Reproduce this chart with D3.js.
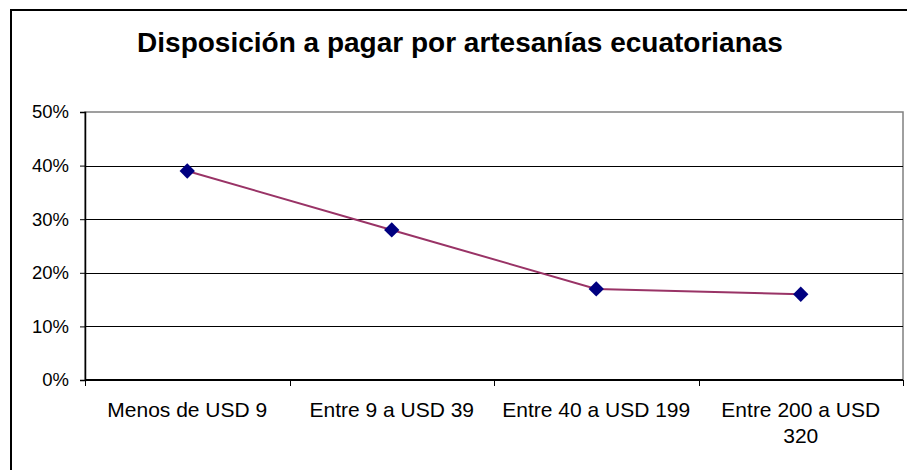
<!DOCTYPE html>
<html>
<head>
<meta charset="utf-8">
<script src="https://cdn.jsdelivr.net/npm/d3@7"></script>
<style>
  html, body { margin: 0; padding: 0; background: #fff; }
  svg { display: block; }
</style>
</head>
<body>
<div class="chart"></div>
<script>
const categories = ["Menos de USD 9", "Entre 9 a USD 39", "Entre 40 a USD 199", "Entre 200 a USD 320"];
const shares = [0.39, 0.28, 0.17, 0.16];
const yTicks = [0, 0.1, 0.2, 0.3, 0.4, 0.5];
const title = "Disposición a pagar por artesanías ecuatorianas";

const width = 907;
const height = 470;
const plot = { left: 85, right: 903, top: 112, bottom: 380 };

const svg = d3.select(".chart")
  .append("svg")
  .attr("width", width)
  .attr("height", height)
  .style("font-family", "'Liberation Sans', Arial, sans-serif");

// outer chart frame (runs off the right and bottom edges)
svg.append("rect")
  .attr("x", 11)
  .attr("y", 10)
  .attr("width", 1000)
  .attr("height", 1000)
  .attr("fill", "#fff")
  .attr("stroke", "#000")
  .attr("stroke-width", 2);

svg.append("text")
  .attr("x", 460)
  .attr("y", 52)
  .attr("text-anchor", "middle")
  .style("font-size", "28px")
  .style("font-weight", "700")
  .text(title);

const x = d3.scaleBand()
  .domain(categories)
  .range([plot.left, plot.right]);

const y = d3.scaleLinear()
  .domain([0, 0.5])
  .range([plot.bottom, plot.top]);

// plot area border
svg.append("rect")
  .attr("x", plot.left)
  .attr("y", plot.top)
  .attr("width", plot.right - plot.left)
  .attr("height", plot.bottom - plot.top)
  .attr("fill", "none")
  .attr("stroke", "#808080")
  .attr("stroke-width", 1.5);

// gridlines
svg.append("g")
  .selectAll("line")
  .data(yTicks.slice(1, -1))
  .join("line")
  .attr("x1", plot.left)
  .attr("x2", plot.right)
  .attr("y1", (d) => Math.round(y(d)) + 0.5)
  .attr("y2", (d) => Math.round(y(d)) + 0.5)
  .attr("stroke", "#000")
  .attr("stroke-width", 1);

// y axis
svg.append("g")
  .attr("transform", `translate(${plot.left},0)`)
  .call(d3.axisLeft(y).tickValues(yTicks).tickFormat(d3.format(".0%")).tickSize(5).tickPadding(11))
  .call((g) => g.select(".domain").attr("stroke", "#000").attr("stroke-width", 1.5))
  .call((g) => g.selectAll(".tick line").attr("stroke", "#000"))
  .call((g) => g.selectAll("text")
    .attr("fill", "#000")
    .style("font-size", "18.5px")
    .style("font-family", "'Liberation Sans', Arial, sans-serif"));

// x axis: ticks at band edges
const xAxis = svg.append("g")
  .attr("transform", `translate(0,${plot.bottom})`);

xAxis.append("line")
  .attr("x1", plot.left)
  .attr("x2", plot.right)
  .attr("stroke", "#000")
  .attr("stroke-width", 2);

const edges = categories.map((c) => x(c)).concat([x(categories[categories.length - 1]) + x.bandwidth()]);

xAxis.selectAll(".edge")
  .data(edges)
  .join("line")
  .attr("class", "edge")
  .attr("x1", (d) => Math.round(d) + 0.5)
  .attr("x2", (d) => Math.round(d) + 0.5)
  .attr("y1", 0)
  .attr("y2", 6)
  .attr("stroke", "#000");

const labels = xAxis.selectAll(".cat")
  .data(categories)
  .join("text")
  .attr("class", "cat")
  .attr("x", (d) => x(d) + x.bandwidth() / 2)
  .attr("y", 37)
  .attr("text-anchor", "middle")
  .style("font-size", "21px");

// wrap labels that don't fit the band
const maxLabelWidth = x.bandwidth() - 10;
labels.each(function (d) {
  const text = d3.select(this);
  const words = d.split(" ");
  let line = [];
  let tspan = text.append("tspan").attr("x", x(d) + x.bandwidth() / 2).attr("dy", 0);
  words.forEach((w) => {
    line.push(w);
    tspan.text(line.join(" "));
    if (tspan.node().getComputedTextLength() > maxLabelWidth && line.length > 1) {
      line.pop();
      tspan.text(line.join(" "));
      line = [w];
      tspan = text.append("tspan")
        .attr("x", x(d) + x.bandwidth() / 2)
        .attr("dy", 26)
        .text(w);
    }
  });
});

const points = categories.map((c, i) => ({ cat: c, value: shares[i] }));

svg.append("path")
  .datum(points)
  .attr("fill", "none")
  .attr("stroke", "#993366")
  .attr("stroke-width", 2)
  .attr("d", d3.line()
    .x((d) => x(d.cat) + x.bandwidth() / 2)
    .y((d) => y(d.value)));

svg.append("g")
  .selectAll("path")
  .data(points)
  .join("path")
  .attr("transform", (d) => `translate(${x(d.cat) + x.bandwidth() / 2},${y(d.value)})`)
  .attr("d", d3.symbol().type(d3.symbolDiamond2).size(150))
  .attr("fill", "#000080");
</script>
</body>
</html>
